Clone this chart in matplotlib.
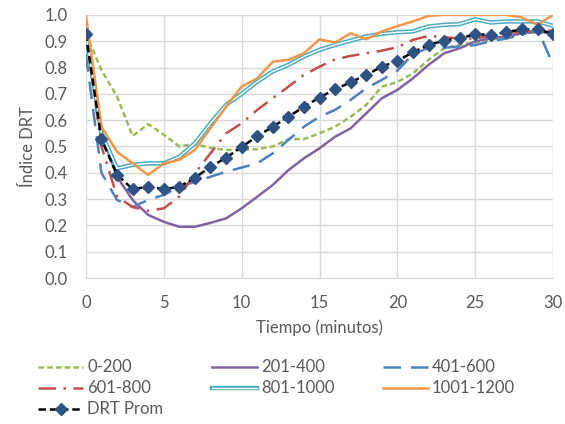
import numpy as np
import matplotlib.pyplot as plt
import matplotlib.patheffects as pe

# Data
tiempo = list(range(31))

s_0_200 = [0.93, 0.79, 0.69, 0.54, 0.585, 0.545, 0.50, 0.51, 0.494, 0.487, 0.487,
           0.49, 0.50, 0.528, 0.528, 0.55, 0.575, 0.613, 0.658, 0.727, 0.745,
           0.778, 0.829, 0.873, 0.886, 0.895, 0.905, 0.918, 0.93, 0.935, 0.935]
s_201_400 = [0.93, 0.55, 0.385, 0.297, 0.24, 0.214, 0.195, 0.195, 0.21, 0.227, 0.265,
             0.309, 0.354, 0.41, 0.455, 0.493, 0.537, 0.569, 0.626, 0.683, 0.715,
             0.759, 0.81, 0.854, 0.873, 0.899, 0.911, 0.918, 0.93, 0.935, 0.93]
s_401_600 = [0.85, 0.40, 0.297, 0.27, 0.297, 0.316, 0.347, 0.366, 0.385, 0.404, 0.42,
             0.436, 0.474, 0.525, 0.575, 0.613, 0.639, 0.677, 0.721, 0.753, 0.788,
             0.85, 0.875, 0.875, 0.88, 0.885, 0.90, 0.91, 0.925, 0.945, 0.81]
s_601_800 = [0.93, 0.50, 0.31, 0.27, 0.256, 0.265, 0.31, 0.398, 0.474, 0.55, 0.588,
             0.639, 0.683, 0.727, 0.772, 0.803, 0.831, 0.844, 0.854, 0.864, 0.877,
             0.905, 0.92, 0.915, 0.91, 0.91, 0.92, 0.93, 0.935, 0.94, 0.94]
s_801_1000 = [0.93, 0.55, 0.417, 0.43, 0.436, 0.436, 0.461, 0.512, 0.588, 0.658, 0.70,
              0.746, 0.785, 0.81, 0.842, 0.867, 0.886, 0.902, 0.918, 0.928, 0.934,
              0.937, 0.956, 0.962, 0.965, 0.983, 0.971, 0.975, 0.975, 0.975, 0.958]
s_1001_1200 = [1.0, 0.575, 0.48, 0.436, 0.392, 0.436, 0.449, 0.487, 0.569, 0.651, 0.728,
               0.759, 0.822, 0.829, 0.854, 0.907, 0.895, 0.93, 0.907, 0.937, 0.957,
               0.975, 0.996, 1.0, 1.0, 1.0, 1.0, 1.0, 0.99, 0.962, 1.0]
drt_prom = [0.928, 0.527, 0.393, 0.338, 0.347, 0.338, 0.347, 0.381, 0.423, 0.457, 0.498,
            0.539, 0.575, 0.613, 0.651, 0.686, 0.717, 0.744, 0.772, 0.803, 0.825,
            0.858, 0.886, 0.902, 0.911, 0.926, 0.924, 0.934, 0.945, 0.945, 0.928]

plt.rcParams['font.family'] = ['Lato', 'DejaVu Sans']
txt = '#595959'

fig = plt.figure(figsize=(5.65, 4.24), dpi=100)
ax = fig.add_axes([0.152, 0.344, 0.827, 0.621])

ax.plot(tiempo, s_0_200, color='#9BBB59', lw=1.8, dashes=(2.2, 1.3), label='0-200')
ax.plot(tiempo, s_201_400, color='#8064A2', lw=1.8, label='201-400')
ax.plot(tiempo, s_401_600, color='#4F81BD', lw=1.8, dashes=(7, 4), label='401-600')
ax.plot(tiempo, s_601_800, color='#C0504D', lw=1.8, dashes=(7, 3, 1, 3), label='601-800')
# double line: cyan with a thin white core
ax.plot(tiempo, s_801_1000, color='#4BACC6', lw=3.2, label='801-1000',
        path_effects=[pe.Stroke(linewidth=3.2, foreground='#4BACC6'),
                      pe.Stroke(linewidth=1.0, foreground='white')])
ax.plot(tiempo, s_1001_1200, color='#F79646', lw=1.8, label='1001-1200')
ax.plot(tiempo, drt_prom, color='black', lw=1.8, dashes=(3, 1.5), marker='D',
        markersize=6, markerfacecolor='#2E5283', markeredgecolor='#2E5283',
        label='DRT Prom')

ax.set_xlim(0, 30)
ax.set_ylim(0, 1.0)
ax.set_xticks(range(0, 31, 5))
ax.set_yticks(np.arange(0, 1.01, 0.1))
ax.set_yticklabels([f'{v:.1f}' for v in np.arange(0, 1.01, 0.1)])
ax.grid(True, color='#D9D9D9', lw=1)
ax.set_axisbelow(True)
for s in ax.spines.values():
    s.set_visible(False)
ax.spines['bottom'].set_visible(True)
ax.spines['bottom'].set_color('#D9D9D9')
ax.tick_params(length=0, labelsize=12, colors=txt)
ax.tick_params(axis='x', pad=12)
ax.tick_params(axis='y', pad=13)
ax.set_xlabel('Tiempo (minutos)', fontsize=12, color=txt, labelpad=6)
ax.set_ylabel('Índice DRT', fontsize=12, color=txt, labelpad=6)

# row-wise legend order like the original
handles, labels = ax.get_legend_handles_labels()
order = [0, 3, 6, 1, 4, 2, 5]
leg = fig.legend([handles[i] for i in order], [labels[i] for i in order],
                 loc='lower left', bbox_to_anchor=(0.041, -0.02), ncol=3, frameon=False,
                 fontsize=12, handlelength=2.7, handletextpad=0.25, columnspacing=2.9,
                 labelspacing=0.3)
for t in leg.get_texts():
    t.set_color(txt)

plt.savefig('out.png', dpi=100)
